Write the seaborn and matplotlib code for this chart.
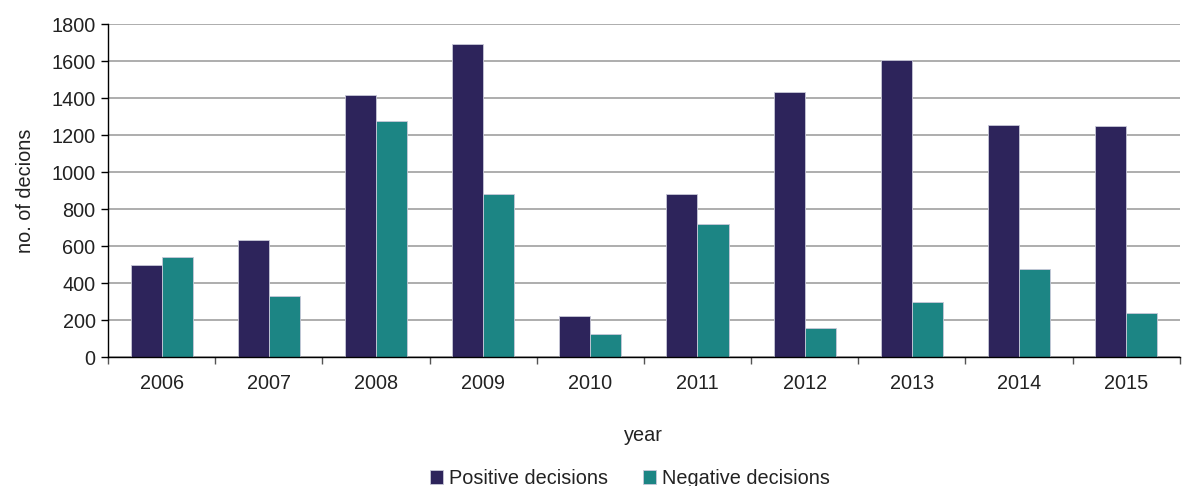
import matplotlib
matplotlib.use("Agg")
import matplotlib.pyplot as plt
import seaborn as sns
import pandas as pd
import numpy as np

years = ["2006", "2007", "2008", "2009", "2010", "2011", "2012", "2013", "2014", "2015"]
positive = [500, 630, 1415, 1690, 220, 880, 1432, 1605, 1255, 1250]
negative = [540, 330, 1278, 882, 125, 720, 155, 297, 476, 240]
series_names = ["Positive decisions", "Negative decisions"]
colors = ["#2D245B", "#1C8584"]

df = pd.DataFrame({
    "year": years * 2,
    "value": positive + negative,
    "series": [series_names[0]] * len(years) + [series_names[1]] * len(years),
})

sns.set_style("white")
plt.rcParams['font.family'] = ['Liberation Sans', 'DejaVu Sans']
FS = 14.3

fig = plt.figure(figsize=(11.94, 4.86), dpi=100)
ax = fig.add_axes([0.0905, 0.2654, 0.8975, 0.6852])

sns.barplot(data=df, x="year", y="value", hue="series", palette=colors,
            width=0.58, gap=0, ax=ax, saturation=1, legend=True,
            edgecolor="#c8c8d8", linewidth=0.6)

ax.set_ylim(0, 1800)
ax.set_yticks(np.arange(0, 1801, 200))
ax.set_xlim(-0.5, len(years) - 0.5)
ax.yaxis.grid(True, color="#a0a0a0", linewidth=1.2)
ax.set_axisbelow(True)
for s in ["top", "right"]:
    ax.spines[s].set_visible(False)
ax.spines["left"].set_color("black")
ax.spines["bottom"].set_color("black")
ax.spines["left"].set_linewidth(1.0)
ax.spines["bottom"].set_linewidth(1.0)

ax.tick_params(axis="y", which="major", direction="out", length=5, width=1,
               color="black", labelsize=FS, labelcolor="#222222", pad=4, left=True)
ax.tick_params(axis="x", which="major", length=0, labelsize=FS,
               labelcolor="#222222", pad=12)
ax.set_xticks(np.arange(-0.5, len(years), 1.0), minor=True)
ax.tick_params(axis="x", which="minor", direction="out", length=5, width=1,
               color="#555555", bottom=True)

ax.set_xlabel("year", fontsize=FS, color="#222222", labelpad=24)
ax.set_ylabel("no. of decions", fontsize=FS, color="#222222", labelpad=12)

handles, labels = ax.get_legend_handles_labels()
ax.legend(handles, labels, loc="center", bbox_to_anchor=(0.487, -0.365),
          ncol=2, frameon=False, fontsize=FS, handlelength=0.65,
          handleheight=0.65, handletextpad=0.3, columnspacing=1.75,
          labelcolor="#222222")

fig.savefig("out.png", dpi=100)
